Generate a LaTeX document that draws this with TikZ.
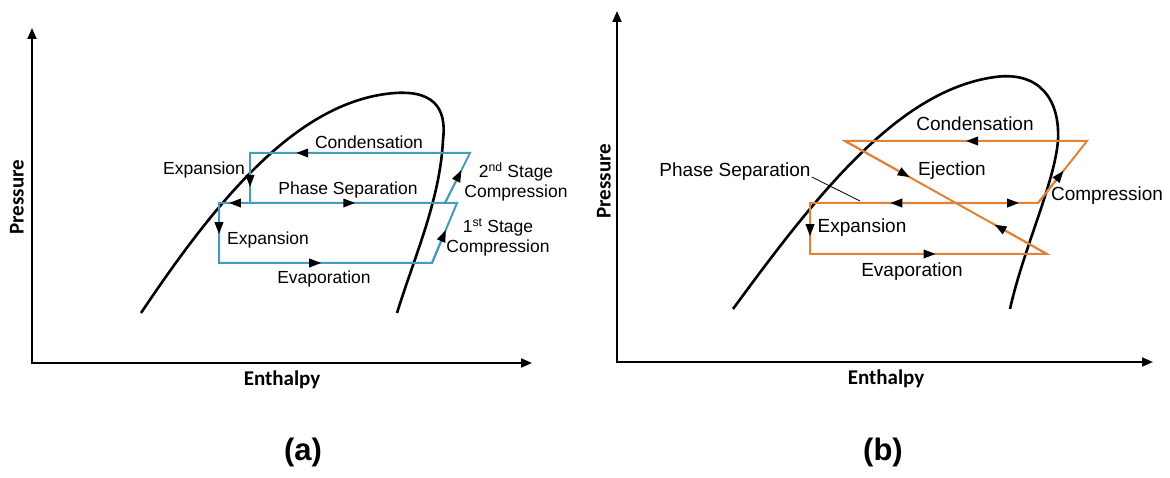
\documentclass[tikz,border=0pt]{standalone}
\usepackage{fontspec}
\setmainfont{Liberation Sans}
\newfontfamily\calib{Carlito}
\usetikzlibrary{arrows.meta,calc}
\definecolor{cycblue}{RGB}{70,155,185}
\definecolor{cycorange}{RGB}{225,130,55}
\begin{document}
\begin{tikzpicture}[x=1pt,y=-1pt,
 axis/.style={line width=2pt,{Triangle[length=11pt,width=9pt]}-{Triangle[length=11pt,width=9pt]}},
 dome/.style={line width=2.6pt},
 cycA/.style={draw=cycblue,line width=2pt},
 cycB/.style={draw=cycorange,line width=2pt},
 ahd/.style={-{Triangle[length=12pt,width=8.5pt,color=black]}},
 lbl/.style={font=\fontsize{17.5}{20}\selectfont, inner sep=0pt, align=center},
 lblb/.style={font=\fontsize{19}{22}\selectfont, inner sep=0pt, align=center},
 axlbl/.style={font=\calib\bfseries\fontsize{21}{25}\selectfont, inner sep=0pt},
 captxt/.style={font=\bfseries\fontsize{31}{36}\selectfont, inner sep=0pt}]
\useasboundingbox (0,0) rectangle (1170,478);

% ---------- panel (a) ----------
\coordinate (ya) at (32,28);
\coordinate (oa) at (32,363);
\coordinate (xa) at (532,363);
\draw[axis] (ya) -- (oa) -- (xa);
\node[axlbl, rotate=90] (pa) at (17,197) {Pressure};
\node[axlbl] (ea) at (282,380) {Enthalpy};
\node[captxt] (capa) at (303,452) {(a)};

\draw[dome] (141,313) .. controls (220,195) and (300,100) .. (395,93)
  .. controls (440,90) and (446,115) .. (443,140)
  .. controls (440,200) and (415,255) .. (397,313);

\coordinate (A1) at (470,153);
\coordinate (A2) at (250,153);
\coordinate (A3) at (250,203);
\coordinate (A4) at (445,203);
\coordinate (B1) at (219,203);
\coordinate (B2) at (219,263);
\coordinate (B3) at (432,263);
\coordinate (B4) at (457,203);
\draw[cycA] (A3) -- (A2) -- (A1) -- (A4);
\draw[cycA] (B4) -- (B1) -- (B2) -- (B3) -- cycle;

\draw[cycA,ahd] (A1) -- ($(A1)!0.79!(A2)$);
\draw[cycA,ahd] (A2) -- ($(A2)!0.68!(A3)$);
\draw[cycA,ahd] (A3) -- ($(A3)!0.68!(B1)$);
\draw[cycA,ahd] (A3) -- ($(A3)!0.54!(A4)$);
\draw[cycA,ahd] (B1) -- ($(B1)!0.52!(B2)$);
\draw[cycA,ahd] (B2) -- ($(B2)!0.48!(B3)$);
\draw[cycA,ahd] (B3) -- ($(B3)!0.55!(B4)$);
\draw[cycA,ahd] (A4) -- ($(A4)!0.66!(A1)$);

\node[lbl] (conda) at (369,142) {Condensation};
\node[lbl] (expa1) at (204,170) {Expansion};
\node[lbl] (psa) at (348,190) {Phase Separation};
\node[lbl] (c2a) at (516,182) {2\textsuperscript{nd} Stage\\Compression};
\node[lbl] (c1a) at (498,237) {1\textsuperscript{st} Stage\\Compression};
\node[lbl] (expa2) at (268,240) {Expansion};
\node[lbl] (evpa) at (324,279) {Evaporation};

% ---------- panel (b) ----------
\coordinate (yb) at (617,11);
\coordinate (ob) at (617,362);
\coordinate (xb) at (1153,362);
\draw[axis] (yb) -- (ob) -- (xb);
\node[axlbl, rotate=90] (pb) at (604,181) {Pressure};
\node[axlbl] (eb) at (886,379) {Enthalpy};
\node[captxt] (capb) at (883,452) {(b)};

\draw[dome] (733,309) .. controls (820,190) and (900,90) .. (995,77)
  .. controls (1040,71) and (1060,100) .. (1058,140)
  .. controls (1055,182) and (1023,250) .. (1010,309);

\coordinate (C1) at (1087,141);
\coordinate (C2) at (845,141);
\coordinate (C3) at (1047,254);
\coordinate (C4) at (810,254);
\coordinate (C5) at (810,203);
\coordinate (C6) at (1038,203);
\draw[cycB] (C2) -- (C3) -- (C4) -- (C5) -- (C6) -- (C1) -- cycle;
\coordinate (M) at ($(C2)!0.549!(C3)$);

\draw[cycB,ahd] (C1) -- ($(C1)!0.5!(C2)$);
\draw[cycB,ahd] (C2) -- ($(C2)!0.32!(C3)$);
\draw[cycB,ahd] (C3) -- ($(C3)!0.26!(C2)$);
\draw[cycB,ahd] (M) -- ($(M)!0.45!(C5)$);
\draw[cycB,ahd] (M) -- ($(M)!0.77!(C6)$);
\draw[cycB,ahd] (C6) -- ($(C6)!0.52!(C1)$);
\draw[cycB,ahd] (C5) -- ($(C5)!0.65!(C4)$);
\draw[cycB,ahd] (C4) -- ($(C4)!0.53!(C3)$);

\node[lblb] (condb) at (975,124) {Condensation};
\node[lblb] (ejb) at (952,171) {Ejection};
\node[lblb] (psb) at (735,172) {Phase Separation};
\node[lblb] (compb) at (1107,196) {Compression};
\node[lblb] (expb) at (862,228) {Expansion};
\node[lblb] (evpb) at (912,272) {Evaporation};
\coordinate (psl) at (860,201);
\draw[line width=0.8pt] ($(psb.east)+(1,5)$) -- (psl);
\end{tikzpicture}
\end{document}
